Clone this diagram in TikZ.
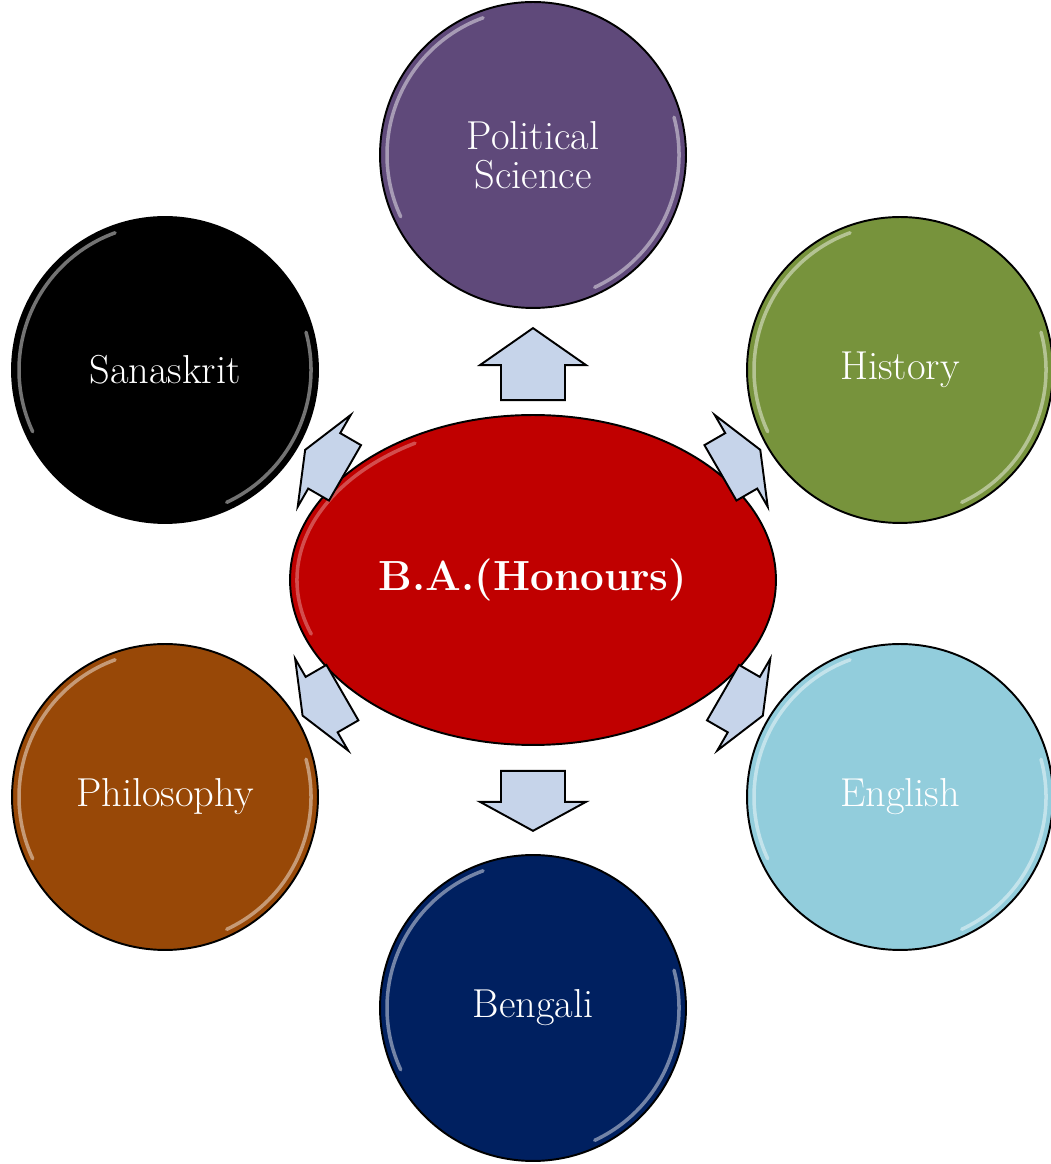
\documentclass[tikz,border=0pt]{standalone}
\usepackage{fontspec}
\usetikzlibrary{shapes.geometric,calc}

\definecolor{polcol}{HTML}{5F497A}
\definecolor{hiscol}{HTML}{77933C}
\definecolor{engcol}{HTML}{92CDDC}
\definecolor{phicol}{HTML}{984807}
\definecolor{bencol}{HTML}{002060}
\definecolor{hubred}{HTML}{C00000}
\definecolor{arrowfill}{HTML}{C6D4EA}

\tikzset{
  subj/.style={circle, draw=black, line width=1.1pt, minimum size=6.12cm, inner sep=0pt,
    text=white, align=center, font=\fontsize{23}{22}\selectfont},
  hub/.style={ellipse, draw=black, line width=1.1pt, fill=hubred, minimum width=9.72cm,
    minimum height=6.6cm, inner sep=0pt, text=white, font=\bfseries\fontsize{24}{26}\selectfont},
  arrowbox/.style={draw=black, line width=1.1pt, fill=arrowfill, line join=miter},
  rim/.style={white, opacity=0.45, line width=2pt, line cap=round},
  pics/barrow/.style 2 args={code={
    \draw[arrowbox] (#1/2,0) -- (#1/2-#2,53) -- (#1/2-#2,32) -- (-#1/2,32)
      -- (-#1/2,-32) -- (#1/2-#2,-32) -- (#1/2-#2,-53) -- cycle;
  }}
}

\newcommand{\glossrim}[1]{%
  \draw[rim] ($(#1.center)+(110:146)$) arc (110:205:146);
  \draw[rim] ($(#1.center)+(-65:146)$) arc (-65:15:146);
}

\begin{document}
\begin{tikzpicture}[x=0.02cm, y=0.02cm]
\useasboundingbox (0,0) rectangle (1051,1164);

\node[hub] (ctr) at (533,584) {B.A.(Honours)};

\node[subj, fill=polcol] (pol) at (533,1009) {Political\\Science};
\node[subj, fill=black]  (san) at (165,794) {Sanaskrit};
\node[subj, fill=hiscol] (his) at (900,794) {History};
\node[subj, fill=phicol] (phi) at (165,367) {Philosophy};
\node[subj, fill=engcol] (eng) at (900,367) {English};
\node[subj, fill=bencol] (ben) at (533,156) {Bengali};

\foreach \s in {pol,san,his,phi,eng,ben} {\glossrim{\s}}
\draw[rim, opacity=0.3] ($(ctr.center)+(120:236 and 158)$) arc (120:200:236 and 158);

\pic[rotate=90]  at ($(ctr)!0.508!(pol)$) {barrow={72}{37}};
\pic[rotate=270] at ($(ctr)!0.516!(ben)$) {barrow={60}{29}};
\pic[rotate=30]  at ($(ctr)!0.565!(his)$) {barrow={46}{22}};
\pic[rotate=150] at ($(ctr)!0.565!(san)$) {barrow={46}{22}};
\pic[rotate=210] at ($(ctr)!0.572!(phi)$) {barrow={46}{22}};
\pic[rotate=330] at ($(ctr)!0.572!(eng)$) {barrow={46}{22}};

\end{tikzpicture}
\end{document}
